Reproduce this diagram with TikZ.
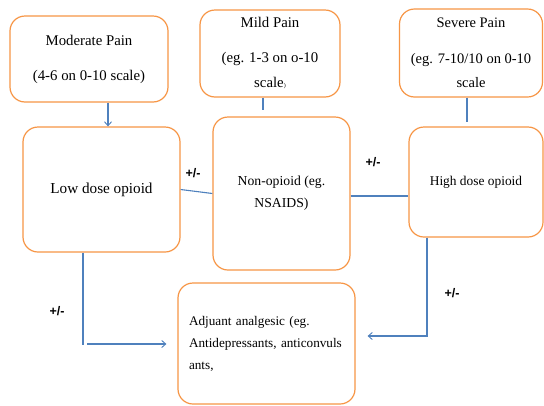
\documentclass[tikz,border=0pt]{standalone}
\usepackage{fontspec}
\setmainfont{Liberation Serif}
\newfontfamily\pmfont{Liberation Sans}
\usetikzlibrary{arrows.meta}
\definecolor{boxorange}{RGB}{247,150,70}
\definecolor{lineblue}{RGB}{79,129,189}
\tikzset{
  pbox/.style={draw=boxorange, line width=1.2pt, rounded corners=15pt, fill=white,
    inner sep=0pt, align=center, text=black},
  conn/.style={draw=lineblue, line width=1.1pt},
  arr/.style={conn, -{Straight Barb[length=4pt,width=7pt,line width=0.9pt]}},
  pm/.style={font=\pmfont\bfseries\fontsize{12.5}{14}\selectfont, text=black, inner sep=0pt}
}
\begin{document}
\begin{tikzpicture}[x=1pt,y=-1pt]
\useasboundingbox (0,0) rectangle (544,405);
\fill[white] (0,0) rectangle (544,405);

% boxes
\node[pbox, minimum width=158pt, minimum height=86pt, font=\fontsize{14.8}{18}\selectfont]
  (mod) at (89,59) {Moderate Pain\\[17pt](4-6 on 0-10 scale)};
\node[pbox, minimum width=140pt, minimum height=87pt, font=\fontsize{14.8}{18}\selectfont]
  (mild) at (270,53.5) {Mild Pain\\[17pt](eg. 1-3 on o-10\\[7pt]scale{\fontsize{6}{6}\selectfont)}};
\node[pbox, minimum width=143pt, minimum height=88pt, font=\fontsize{14.5}{18}\selectfont]
  (sev) at (471,53) {Severe Pain\\[18pt](eg. 7-10/10 on 0-10\\[6pt]scale};
\node[pbox, minimum width=157pt, minimum height=125pt, font=\fontsize{15.2}{18}\selectfont]
  (low) at (101.5,189.5) {Low dose opioid};
\node[pbox, minimum width=137pt, minimum height=153pt, font=\fontsize{13.7}{22}\selectfont]
  (non) at (281.5,193.5) {Non-opioid (eg.\\NSAIDS)};
\node[pbox, minimum width=134pt, minimum height=110pt, font=\fontsize{13.4}{16}\selectfont]
  (high) at (476,182) {High dose opioid};
\node[pbox, minimum width=177pt, minimum height=121pt, text width=155pt, inner xsep=11pt,
  align=left, font=\fontsize{13.2}{22}\selectfont]
  (adj) at (266.5,343.5) {Adjuant analgesic (eg.\\Antidepressants, anticonvuls\\ants,};

% helper coordinates
\coordinate (xa) at (108,0);
\coordinate (xb) at (263,0);
\coordinate (xc) at (467,0);
\coordinate (yd) at (0,196);
\coordinate (xe) at (83,0);
\coordinate (ye) at (0,344);
\coordinate (xf) at (427,0);
\coordinate (yf) at (0,336);
\coordinate (ce) at (83,345);
\coordinate (ce2) at (87,344);

% connectors
\draw[arr] (mod.south -| xa) -- (low.north -| xa);
\draw[conn, shorten >=6pt] (mild.south -| xb) -- (non.north -| xb);
\draw[conn, shorten >=4pt] (sev.south -| xc) -- (high.north -| xc);
\draw[conn] (low.east) -- (non.west);
\draw[conn] (non.east |- yd) -- (high.west |- yd);
\draw[conn] (low.south -| xe) -- (ce);
\draw[arr, shorten >=11pt] (ce2) -- (adj.west |- ye);
\draw[arr, shorten >=12pt] (high.south -| xf) |- (adj.east |- yf);

% labels
\node[pm] (pm1) at (193,173) {+/-};
\node[pm] (pm2) at (373,162) {+/-};
\node[pm] (pm3) at (57,311) {+/-};
\node[pm] (pm4) at (452,293) {+/-};
\end{tikzpicture}
\end{document}
